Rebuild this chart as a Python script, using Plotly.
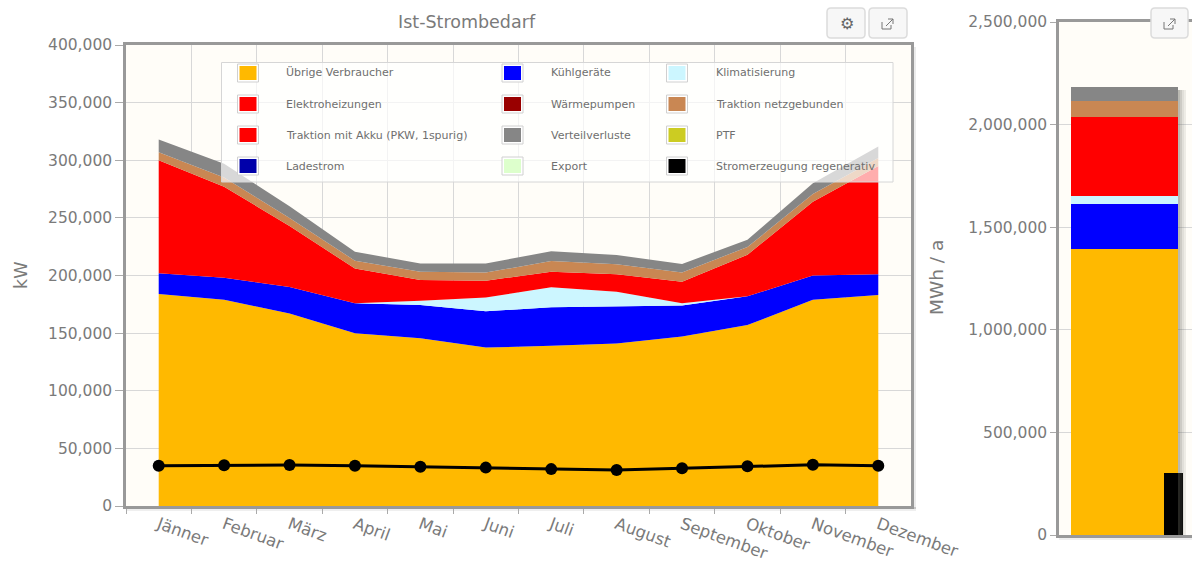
import plotly.graph_objects as go

months = ["Jänner", "Februar", "März", "April", "Mai", "Juni", "Juli", "August", "September", "Oktober", "November", "Dezember"]
uebrige = [184000, 179000, 167000, 150000, 145500, 137500, 139000, 141000, 147000, 157000, 179000, 183000]
kuehl = [18000, 19000, 23000, 26000, 28900, 31500, 33400, 32000, 27000, 25000, 21000, 18000]
klima = [0, 0, 0, 0, 3600, 12000, 17300, 13000, 2000, 0, 0, 0]
elektro = [98000, 79000, 53000, 30000, 18000, 14500, 13600, 15000, 18600, 36000, 64000, 94000]
traktion_netz = [7000, 8000, 7000, 6800, 7300, 7000, 9300, 8700, 8100, 6700, 6700, 7000]
verlust = [11000, 12000, 10000, 7800, 7200, 8000, 8400, 8100, 7300, 6300, 9300, 10000]
regenerativ = [35000, 35300, 35500, 35000, 34000, 33300, 32000, 31200, 32800, 34500, 35700, 35000]

jahr_namen = ["Übrige Verbraucher", "Kühlgeräte", "Klimatisierung", "Elektroheizungen", "Traktion netzgebunden", "Verteilverluste"]
jahr_werte = [1394000, 219000, 39000, 385000, 78000, 68000]
jahr_regenerativ = 300000

legend_names = ["Übrige Verbraucher", "Kühlgeräte", "Klimatisierung", "Elektroheizungen", "Wärmepumpen",
                "Traktion netzgebunden", "Traktion mit Akku (PKW, 1spurig)", "Verteilverluste", "PTF",
                "Ladestrom", "Export", "Stromerzeugung regenerativ"]
legend_colors = ["#FFB900", "#0000FF", "#CCF6FF", "#FF0000", "#990000", "#C98753", "#FF0000", "#868686", "#CCCC22",
                 "#0000AA", "#DDFFCC", "#000000"]
color = dict(zip(legend_names, legend_colors))

W, H = 1192, 567
FONT = "DejaVu Sans"
TXT = "#7a7a7a"
px = lambda x: x / W
py = lambda y: 1 - y / H

fig = go.Figure()
for name, vals in [("Übrige Verbraucher", uebrige), ("Kühlgeräte", kuehl), ("Klimatisierung", klima),
                   ("Elektroheizungen", elektro), ("Traktion netzgebunden", traktion_netz), ("Verteilverluste", verlust)]:
    fig.add_trace(go.Scatter(x=months, y=vals, name=name, mode="lines", stackgroup="a",
                             line=dict(width=0, color=color[name]), fillcolor=color[name], showlegend=False))
fig.add_trace(go.Scatter(x=months, y=regenerativ, name="Stromerzeugung regenerativ", mode="lines+markers",
                         line=dict(color="#000000", width=3), marker=dict(color="#000000", size=12), showlegend=False))

for name, v in zip(jahr_namen, jahr_werte):
    fig.add_trace(go.Bar(x=[0], y=[v], name=name, width=1, marker=dict(color=color[name], line=dict(width=0)),
                         xaxis="x2", yaxis="y2", showlegend=False))
fig.add_trace(go.Bar(x=[0.46], y=[jahr_regenerativ], name="Stromerzeugung regenerativ", width=0.18,
                     marker=dict(color="#000000", line=dict(width=0)), xaxis="x2", yaxis="y2", showlegend=False))

shapes, ann = [], []
def rect(x0, y0, x1, y1, fill, line=None, lw=1, layer="above"):
    shapes.append(dict(type="rect", xref="paper", yref="paper", x0=px(x0), x1=px(x1), y0=py(y0), y1=py(y1),
                       fillcolor=fill, line=dict(color=line or "rgba(0,0,0,0)", width=lw if line else 0), layer=layer))
def text(x, y, s, size, anchor="left", col=TXT, angle=0):
    ann.append(dict(xref="paper", yref="paper", x=px(x), y=py(y), text=s, showarrow=False, xanchor=anchor,
                    yanchor="middle", font=dict(family=FONT, size=size, color=col), textangle=angle))

# soft shadows
rect(912, 47, 914, 509, "rgba(120,120,120,0.35)", layer="below")
rect(914, 47, 916, 509, "rgba(120,120,120,0.15)", layer="below")
rect(126, 507, 916, 509, "rgba(120,120,120,0.3)", layer="below")
rect(126, 509, 916, 511, "rgba(120,120,120,0.12)", layer="below")
rect(1059, 536, 1192, 538, "rgba(120,120,120,0.3)", layer="below")
rect(1059, 538, 1192, 540, "rgba(120,120,120,0.12)", layer="below")
for i, a in enumerate([0.42, 0.3, 0.18, 0.1]):
    rect(1178 + 2 * i, 90, 1180 + 2 * i, 535, f"rgba(90,90,80,{a})")

# legend
rect(221.5, 62.5, 893, 182, "rgba(255,255,255,0.68)", "#d6d6d6", 1)
cols = [(248, 284), (512.5, 548.5), (677, 713.5)]
rows = [73, 104, 135, 166]
for i, name in enumerate(legend_names):
    sx, tx = cols[i % 3]
    sy = rows[i // 3]
    rect(sx - 10.5, sy - 9, sx + 10.5, sy + 9, "#ffffff", "#d0d0d0", 1)
    rect(sx - 8.5, sy - 7, sx + 8.5, sy + 7, color[name])
    text(tx, sy, name, 11, col="#6f6f6f")

# buttons
def round_rect(x0, y0, x1, y1, r=4):
    return (f"M {px(x0+r)} {py(y0)} L {px(x1-r)} {py(y0)} Q {px(x1)} {py(y0)} {px(x1)} {py(y0+r)} "
            f"L {px(x1)} {py(y1-r)} Q {px(x1)} {py(y1)} {px(x1-r)} {py(y1)} L {px(x0+r)} {py(y1)} "
            f"Q {px(x0)} {py(y1)} {px(x0)} {py(y1-r)} L {px(x0)} {py(y0+r)} Q {px(x0)} {py(y0)} {px(x0+r)} {py(y0)} Z")
for x0, x1 in [(827, 865), (869, 907), (1151, 1188)]:
    shapes.append(dict(type="path", xref="paper", yref="paper", path=round_rect(x0, 8, x1, 38),
                       fillcolor="#f7f7f7", line=dict(color="#dcdcdc", width=1.5), layer="above"))
text(847, 23, "<b>⚙</b>", 16, "center", "#666666")
for c in (888, 1170):
    for d in (
        f"M {px(c-6)} {py(22)} L {px(c-6)} {py(29)} L {px(c+3)} {py(29)} L {px(c+3)} {py(25)}",
        f"M {px(c-2)} {py(26)} L {px(c+5)} {py(19)} M {px(c)} {py(19)} L {px(c+5)} {py(19)} L {px(c+5)} {py(24)}",
    ):
        shapes.append(dict(type="path", xref="paper", yref="paper", path=d, line=dict(color="#777777", width=1), layer="above"))

text(466.5, 22, "Ist-Strombedarf", 17.5, "center")
text(21, 276, "kW", 17.5, "center", angle=-90)
text(936, 278, "MWh / a", 18.5, "center", angle=-90)

axis_font = dict(family=FONT, size=15.5, color=TXT)
cat_font = dict(family=FONT, size=16.5, color=TXT)
fig.update_layout(
    width=W, height=H, margin=dict(l=0, r=0, t=0, b=0), paper_bgcolor="#ffffff", plot_bgcolor="#FFFDF8",
    barmode="stack", showlegend=False, shapes=shapes, annotations=ann, font=dict(family=FONT),
    xaxis=dict(domain=[px(126), px(911)], type="category", range=[-0.5, 11.5], tickson="boundaries", ticks="outside",
               ticklen=5, tickcolor="#aaaaaa", tickangle=20, tickfont=cat_font, showgrid=True, gridcolor="#d8d8d8",
               showline=True, linecolor="#999999", linewidth=2.5, mirror=True, anchor="y", automargin=False),
    yaxis=dict(domain=[py(506), py(45)], range=[0, 400000], tickvals=list(range(0, 400001, 50000)), tickformat=",",
               ticks="outside", ticklen=8, tickcolor="#aaaaaa", tickfont=axis_font, showgrid=True, gridcolor="#d8d8d8",
               showline=True, linecolor="#999999", linewidth=2.5, mirror=True, anchor="x", zeroline=False, automargin=False),
    xaxis2=dict(domain=[px(1059), 1], range=[-0.612, 0.631], showticklabels=False, ticks="", showgrid=False, zeroline=False,
                showline=True, linecolor="#999999", linewidth=2.5, mirror=True, anchor="y2", automargin=False),
    yaxis2=dict(domain=[py(535), py(22)], range=[0, 2500000], tickvals=list(range(0, 2500001, 500000)), tickformat=",",
                ticks="outside", ticklen=6, tickcolor="#aaaaaa", tickfont=axis_font, showgrid=True, gridcolor="#d8d8d8",
                showline=True, linecolor="#999999", linewidth=2.5, mirror=False, anchor="x2", zeroline=False, automargin=False),
)
fig.write_html("out.html", config={"displayModeBar": False},
               post_script="document.body.style.margin='0';document.body.style.overflow='hidden';")
